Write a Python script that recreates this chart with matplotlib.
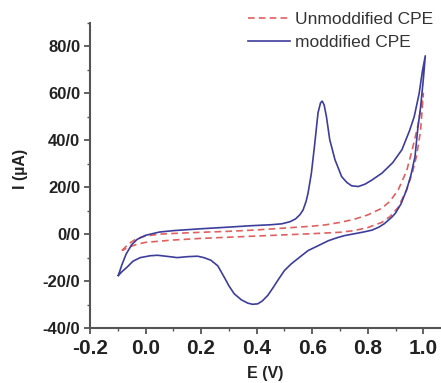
import matplotlib
matplotlib.use("Agg")
import matplotlib.pyplot as plt
from matplotlib.ticker import MultipleLocator

# ---- data (E in V, I in uA) ----
# modified CPE, forward (anodic) sweep
mod_fwd_E = [-0.098, -0.085, -0.07, -0.05, -0.03, 0.0, 0.05, 0.1, 0.2, 0.3, 0.38,
             0.45, 0.49, 0.52, 0.54, 0.555, 0.567, 0.578, 0.585, 0.597, 0.608,
             0.621, 0.63, 0.636, 0.643, 0.651, 0.663, 0.682, 0.706, 0.725, 0.742,
             0.766, 0.79, 0.814, 0.851, 0.89, 0.923, 0.95, 0.967, 0.985, 0.996, 1.007]
mod_fwd_I = [-17.6, -13, -8.5, -4.5, -2.2, -0.5, 0.9, 1.5, 2.3, 3.0, 3.6,
             4.0, 4.4, 5.3, 6.5, 8.2, 10.3, 14, 17.5, 26, 37.4,
             51.8, 56, 56.7, 55, 50.2, 40.3, 31.7, 24.5, 22, 20.6,
             20.3, 21.3, 23, 26, 30.5, 36, 44, 50, 60, 69, 76]
# modified CPE, reverse (cathodic) sweep
mod_rev_E = [1.007, 1.0, 0.99, 0.98, 0.97, 0.955, 0.94, 0.92, 0.9, 0.887, 0.86,
             0.84, 0.815, 0.78, 0.753, 0.717, 0.69, 0.658, 0.62, 0.585, 0.555,
             0.525, 0.5, 0.476, 0.458, 0.44, 0.42, 0.404, 0.385, 0.368, 0.345,
             0.319, 0.3, 0.283, 0.26, 0.235, 0.21, 0.187, 0.15, 0.114, 0.08,
             0.043, 0.017, -0.019, -0.045, -0.066, -0.085, -0.098]
mod_rev_I = [76, 66, 54, 45, 33, 25, 19, 13, 9, 7.3, 4.5,
             3, 1.7, 0.8, 0.2, -0.6, -1.5, -2.8, -5, -7, -9.8,
             -12.6, -15.5, -19.7, -23, -26.1, -28.5, -29.7, -29.9, -29.4, -28,
             -25.4, -22, -18.3, -13.5, -11.1, -10, -9.4, -9.6, -10, -9.5,
             -9, -9.2, -10, -11.5, -14, -16, -17.6]

# unmodified CPE
unmod_fwd_E = [-0.085, -0.06, -0.03, 0.0, 0.05, 0.1, 0.2, 0.3, 0.4, 0.5, 0.6,
               0.65, 0.7, 0.75, 0.8, 0.85, 0.88, 0.91, 0.94, 0.96, 0.98, 1.0]
unmod_fwd_I = [-7, -4, -1.8, -0.8, 0, 0.3, 0.8, 1.2, 1.8, 2.6, 3.4,
               4.0, 5.0, 6.3, 8.2, 11, 14, 19, 27, 36, 46, 60]
unmod_rev_E = [1.0, 0.99, 0.975, 0.96, 0.94, 0.91, 0.88, 0.85, 0.8, 0.75, 0.7,
               0.6, 0.5, 0.4, 0.3, 0.2, 0.1, 0.0, -0.03, -0.06, -0.085]
unmod_rev_I = [60, 44, 33, 26, 19, 11.5, 7.5, 5, 2.8, 1.5, 0.8,
               0.2, -0.3, -0.8, -1.3, -1.8, -2.5, -3.5, -4.3, -5.5, -7]

yticks = [-40, -20, 0, 20, 40, 60, 80]
ytick_labels = ["-40/0", "-20/0", "0/0", "20/0", "40/0", "60/0", "80/0"]
xticks = [-0.2, 0.0, 0.2, 0.4, 0.6, 0.8, 1.0]

plt.rcParams['font.family'] = ['Liberation Sans', 'DejaVu Sans']

fig = plt.figure(figsize=(4.41, 3.83), dpi=100)
ax = fig.add_axes([90/441, 1-328/383, 350/441, 305/383])

ax.plot(unmod_fwd_E + unmod_rev_E, unmod_fwd_I + unmod_rev_I,
        color='#e06060', lw=1.2, dashes=(4, 2.5), label='Unmoddified CPE')
ax.plot(mod_fwd_E + mod_rev_E, mod_fwd_I + mod_rev_I,
        color='#3d3d9c', lw=1.2, label='moddified CPE')

ax.set_xlim(-0.2, 1.06)
ax.set_ylim(-40, 90)
ax.set_xticks(xticks)
ax.set_xticklabels([f"{t:.1f}" for t in xticks])
ax.set_yticks(yticks)
ax.set_yticklabels(ytick_labels)
ax.xaxis.set_minor_locator(MultipleLocator(0.1))
ax.yaxis.set_minor_locator(MultipleLocator(10))

for s in ['top', 'right']:
    ax.spines[s].set_visible(False)
for s in ['left', 'bottom']:
    ax.spines[s].set_linewidth(1.5)
    ax.spines[s].set_color('#555555')

ax.tick_params(axis='x', which='major', length=4, width=1.3, color='#555555',
               labelsize=15, pad=4)
ax.tick_params(axis='y', which='major', length=4, width=1.3, color='#555555',
               labelsize=12, pad=3)
ax.tick_params(which='minor', length=2, width=1, color='#555555')
for lab in ax.get_xticklabels() + ax.get_yticklabels():
    lab.set_fontweight('bold')
    lab.set_color('#222222')

ax.set_xlabel('E (V)', fontsize=11.5, fontweight='bold', color='#222222')
ax.set_ylabel('I (\u00b5A)', fontsize=11.5, fontweight='bold', color='#222222')
ax.xaxis.set_label_coords(0.5, -0.125)
ax.yaxis.set_label_coords(-0.177, 0.52)

fig.legend(loc='upper left', bbox_to_anchor=(248/441, 1-12/383), frameon=False,
           fontsize=12.5, handlelength=2.4, handletextpad=0.3, labelspacing=0.45,
           borderpad=0, borderaxespad=0, labelcolor='#333333')

fig.savefig('out.png', dpi=100)
